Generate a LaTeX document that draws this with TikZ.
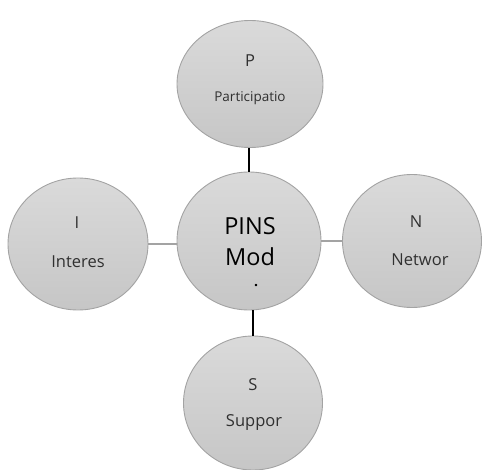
\documentclass[tikz,border=0pt]{standalone}
\usepackage{fontspec}
\setmainfont{Open Sans}
\usetikzlibrary{shapes.geometric}
\definecolor{bordgray}{HTML}{A3A3A3}
\definecolor{topgray}{HTML}{DADADA}
\definecolor{botgray}{HTML}{C6C6C6}
\definecolor{txtgray}{HTML}{303030}
\tikzset{
  bubble/.style={ellipse, draw=bordgray, line width=0.9pt, top color=topgray, bottom color=botgray, inner sep=0pt},
  lbl/.style={inner sep=0pt, text=txtgray, font=\fontsize{16.5}{16.5}\selectfont},
  small/.style={inner sep=0pt, text=txtgray, font=\fontsize{13.5}{13.5}\selectfont},
  big/.style={inner sep=0pt, text=black, font=\fontsize{23.5}{23.5}\selectfont},
  darkline/.style={draw=black, line width=1.1pt},
  greyline/.style={draw=bordgray, line width=1.1pt}
}
\begin{document}
\begin{tikzpicture}[x=1pt,y=-1pt]
\useasboundingbox (0,0) rectangle (482,470);
\node[bubble, minimum width=146, minimum height=127] (P) at (250,84) {};
\node[bubble, minimum width=144, minimum height=138] (M) at (249,241) {};
\node[bubble, minimum width=140, minimum height=132] (I) at (78,244) {};
\node[bubble, minimum width=139, minimum height=133] (N) at (412,241) {};
\node[bubble, minimum width=139, minimum height=134] (S) at (253,403) {};
\draw[darkline] (M.north -| 249,0) -- (P.south -| 249,0);
\draw[darkline] (S.north) -- (S.north |- M.south);
\draw[greyline] (I.east) -- (I.east -| M.west);
\draw[greyline] (M.east) -- (M.east -| N.west);
\node[lbl] (Pt) at (250,61) {P};
\node[small] (Pt2) at (250,98) {Participatio};
\node[big] (Mt1) at (250,226) {PINS};
\node[big] (Mt2) at (250,257) {Mod};
\node[big, font=\bfseries\fontsize{14}{14}\selectfont] (Mt3) at (256,286) {.};
\node[lbl] (It) at (77,223) {I};
\node[lbl] (It2) at (78,262) {Interes};
\node[lbl] (Nt) at (416,222) {N};
\node[lbl] (Nt2) at (420,260) {Networ};
\node[lbl] (St) at (253,385) {S};
\node[lbl] (St2) at (254,423) {Suppor};
\end{tikzpicture}
\end{document}
